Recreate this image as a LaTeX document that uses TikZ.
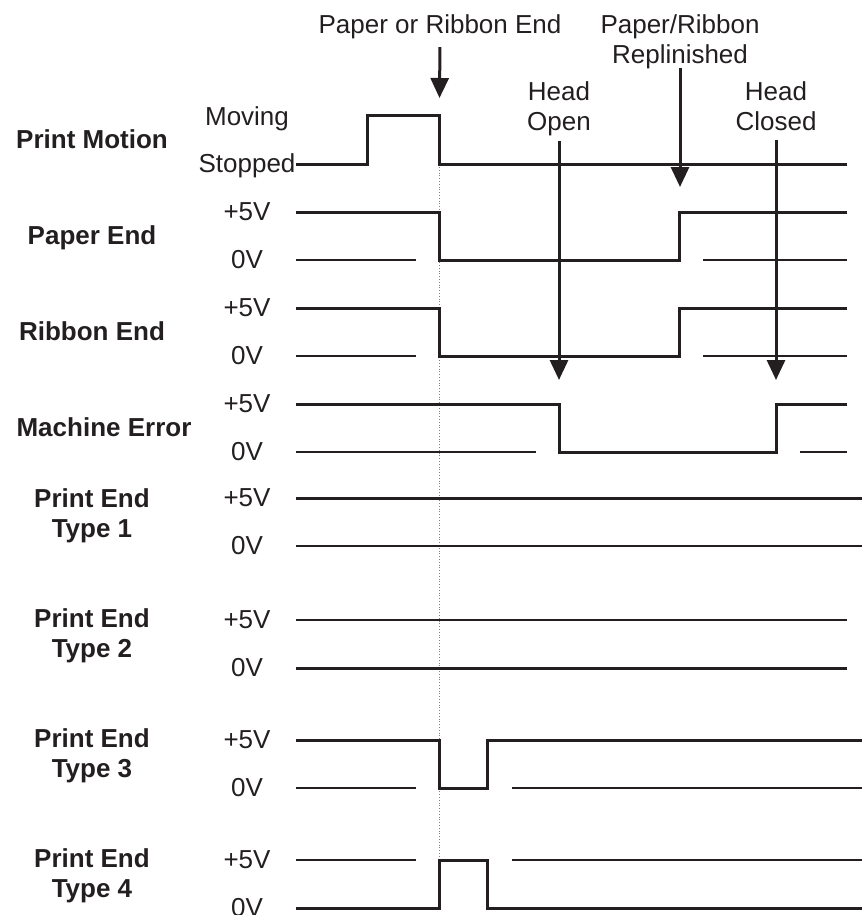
\documentclass[tikz,border=0pt]{standalone}
\usepackage{fontspec}
\setmainfont{Liberation Sans}
\usetikzlibrary{arrows.meta}
\definecolor{ink}{RGB}{35,31,32}

\begin{document}
\begin{tikzpicture}[x=1pt, y=-1pt,
  every node/.style={font=\fontsize{26}{30}\selectfont, text=ink, inner sep=2pt},
  signame/.style={font=\fontsize{26}{30}\selectfont\bfseries, align=center},
  level/.style={anchor=base},
  wave/.style={line width=3pt, ink, line join=miter},
  rail/.style={line width=1.2pt, ink},
  event/.style={line width=3pt, ink, -{Triangle[length=20pt, width=18pt]}}]
\useasboundingbox (0,0) rectangle (862,915);

% signal names
\node[signame] (motion) at (92,139) {Print Motion};
\node[signame, anchor=base] (paper) at (92,244) {Paper End};
\node[signame, anchor=base] (ribbon) at (92,340) {Ribbon End};
\node[signame, anchor=base] (error) at (104,436) {Machine Error};
\node[signame] (pe1) at (92,516) {Print End\\Type 1};
\node[signame] (pe2) at (92,636) {Print End\\Type 2};
\node[signame] (pe3) at (92,756) {Print End\\Type 3};
\node[signame] (pe4) at (92,876) {Print End\\Type 4};

% levels
\node[level] (moving) at (247,125) {Moving};
\node[level] (stopped) at (247,172) {Stopped};
\foreach \hi/\lo [count=\i] in {212/260, 308/356, 404/452, 498/546, 620/668, 740/788, 860/908} {
  \node[level] (hi\i) at (247,\hi+8) {+5V};
  \node[level] (lo\i) at (247,\lo+8) {0V};
}

% events
\node[anchor=base] (runout) at (440,34) {Paper or Ribbon End};
\node[align=center] (refill) at (680,42) {Paper/Ribbon\\Replinished};
\node[align=center] (hopen) at (559,109) {Head\\Open};
\node[align=center] (hclose) at (776,106.5) {Head\\Closed};
\coordinate (runoutTip) at (439.5,98);
\coordinate (refillTip) at (680,187);
\coordinate (hopenTip) at (559,380);
\coordinate (hcloseTip) at (776,380);

% reference line
\draw[gray, line width=0.8pt, dotted] (439.5,167) -- (439.5,858);

% print motion
\draw[wave] (296,164) -- (367,164) -- (367,116) -- (439.5,116) -- (439.5,164) -- (847,164);

% paper end
\draw[wave] (296,212) -- (439.5,212) -- (439.5,260) -- (679,260) -- (679,212) -- (847,212);
\draw[rail] (296,260) -- (416,260);
\draw[rail] (703,260) -- (847,260);

% ribbon end
\draw[wave] (296,308) -- (439.5,308) -- (439.5,356) -- (679,356) -- (679,308) -- (847,308);
\draw[rail] (296,356) -- (416,356);
\draw[rail] (703,356) -- (847,356);

% machine error
\draw[wave] (296,404) -- (559,404) -- (559,452) -- (776,452) -- (776,404) -- (847,404);
\draw[rail] (296,452) -- (536,452);
\draw[rail] (800,452) -- (847,452);

% print end type 1
\draw[wave] (296,498) -- (862,498);
\draw[rail] (296,546) -- (862,546);

% print end type 2
\draw[rail] (296,620) -- (847,620);
\draw[wave] (296,668) -- (847,668);

% print end type 3
\draw[wave] (296,740) -- (439.5,740) -- (439.5,788) -- (487,788) -- (487,740) -- (862,740);
\draw[rail] (296,788) -- (416,788);
\draw[rail] (512,788) -- (862,788);

% print end type 4
\draw[wave] (296,908) -- (439.5,908) -- (439.5,860) -- (487,860) -- (487,908) -- (862,908);
\draw[rail] (296,860) -- (416,860);
\draw[rail] (512,860) -- (862,860);

% event arrows
\draw[event, shorten <=5.5pt] (runout.south) -- (runoutTip);
\draw[event, shorten <=-3.5pt] (refill.south) -- (refillTip);
\draw[event, shorten <=2.5pt] (hopen.south) -- (hopenTip);
\draw[event, shorten <=7pt] (hclose.south) -- (hcloseTip);
\end{tikzpicture}
\end{document}
